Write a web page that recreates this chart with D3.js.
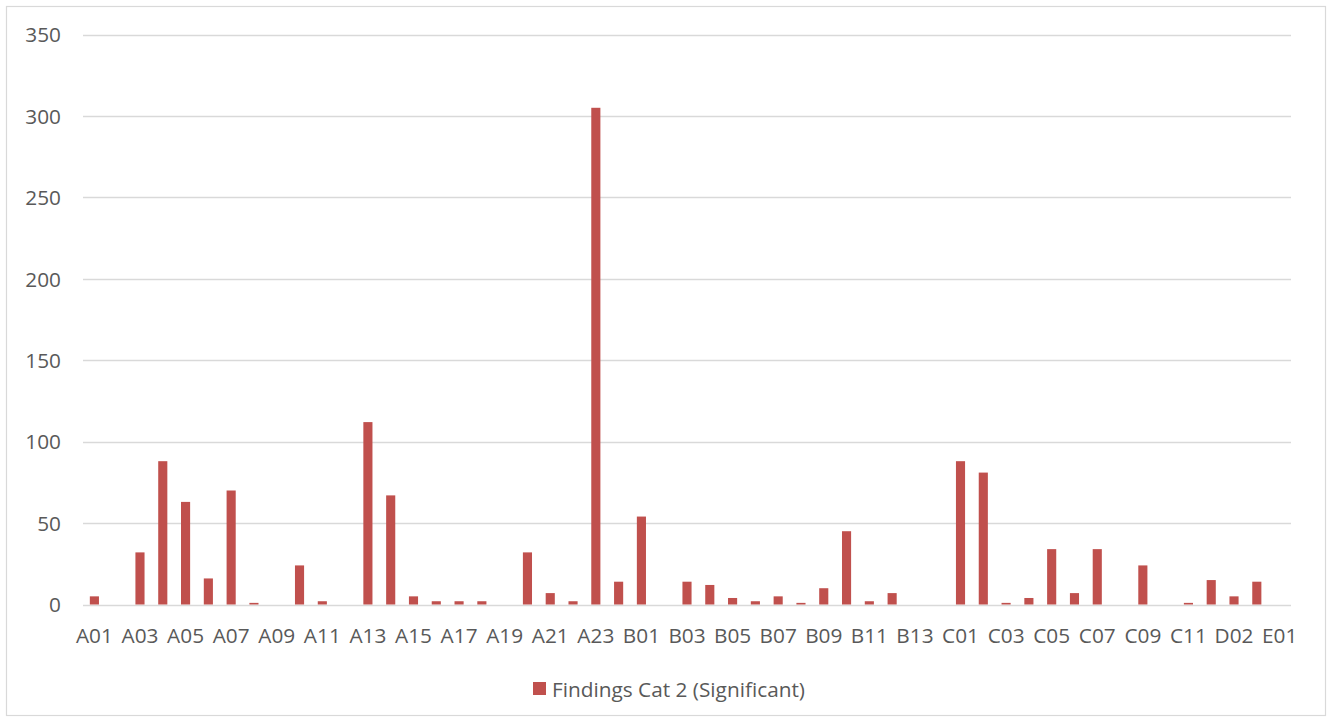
<!DOCTYPE html>
<html>
<head>
<meta charset="utf-8">
<script src="https://cdn.jsdelivr.net/npm/d3@7"></script>
<style>
  html, body { margin: 0; padding: 0; background: #fff; }
  svg { display: block; }
  text { font-family: "Open Sans", "Noto Sans", sans-serif; fill: #595959; }
</style>
</head>
<body>
<svg id="chart" width="1330" height="722"></svg>
<script>
// Categories A01–A24, B01–B14, C01–C11, D01–D03, E01
const categories = [
  "A01","A02","A03","A04","A05","A06","A07","A08","A09","A10","A11","A12",
  "A13","A14","A15","A16","A17","A18","A19","A20","A21","A22","A23","A24",
  "B01","B02","B03","B04","B05","B06","B07","B08","B09","B10","B11","B12","B13","B14",
  "C01","C02","C03","C04","C05","C06","C07","C08","C09","C10","C11",
  "D01","D02","D03","E01"
];
const seriesName = "Findings Cat 2 (Significant)";
const findingsCat2 = [
  5, 0, 32, 88, 63, 16, 70, 1, 0, 24, 2, 0,
  112, 67, 5, 2, 2, 2, 0, 32, 7, 2, 305, 14,
  54, 0, 14, 12, 4, 2, 5, 1, 10, 45, 2, 7, 0, 0,
  88, 81, 1, 4, 34, 7, 34, 0, 24, 0, 1,
  15, 5, 14, 0
];
const yTicks = [0, 50, 100, 150, 200, 250, 300, 350];

const svg = d3.select("#chart");
const plot = { left: 83, right: 1291, top: 34.5, bottom: 604.5 };
const barColor = "#C0504D";
const gridColor = "#D9D9D9";
const fontSize = 20.8;

// Outer chart frame
svg.append("rect")
  .attr("x", 6.5).attr("y", 6.5)
  .attr("width", 1319).attr("height", 709)
  .attr("fill", "#fff").attr("stroke", gridColor).attr("stroke-width", 1.2);

const x = d3.scaleBand()
  .domain(categories)
  .range([plot.left, plot.right])
  .paddingInner(0.6)
  .paddingOuter(0.3);

const y = d3.scaleLinear()
  .domain([0, 350])
  .range([plot.bottom, plot.top]);

// Horizontal gridlines
svg.append("g")
  .selectAll("line")
  .data(yTicks)
  .join("line")
  .attr("x1", plot.left).attr("x2", plot.right)
  .attr("y1", d => Math.round(y(d)) + 0.5)
  .attr("y2", d => Math.round(y(d)) + 0.5)
  .attr("stroke", gridColor)
  .attr("stroke-width", 1.3);

// Y axis labels
const yAxis = d3.axisLeft(y).tickValues(yTicks).tickSize(0).tickPadding(0);
svg.append("g")
  .attr("transform", `translate(61,0)`)
  .call(yAxis)
  .call(g => g.select(".domain").remove())
  .call(g => g.selectAll("text")
    .attr("font-size", fontSize)
    .attr("dy", "0.35em")
    .style("font-family", "'Open Sans', sans-serif")
    .attr("fill", "#595959"));

// Bars
svg.append("g")
  .selectAll("rect")
  .data(categories.map((c, i) => ({ c, v: findingsCat2[i] })))
  .join("rect")
  .attr("x", d => x(d.c))
  .attr("width", x.bandwidth())
  .attr("y", d => y(d.v))
  .attr("height", d => y(0) - y(d.v))
  .attr("fill", barColor);

// X axis labels: every other category
const xAxis = d3.axisBottom(x)
  .tickValues(categories.filter((c, i) => i % 2 === 0))
  .tickSize(0)
  .tickPadding(0);
svg.append("g")
  .attr("transform", `translate(0,${plot.bottom})`)
  .call(xAxis)
  .call(g => g.select(".domain").remove())
  .call(g => g.selectAll("text")
    .attr("y", 38.5)
    .attr("dy", 0)
    .attr("font-size", fontSize)
    .style("font-family", "'Open Sans', sans-serif")
    .attr("fill", "#595959"));

// Legend
const legend = svg.append("g");
legend.append("rect")
  .attr("x", 533).attr("y", 682)
  .attr("width", 13).attr("height", 13)
  .attr("fill", barColor);
legend.append("text")
  .attr("x", 552).attr("y", 696.5)
  .attr("font-size", fontSize)
  .text(seriesName);
</script>
</body>
</html>
